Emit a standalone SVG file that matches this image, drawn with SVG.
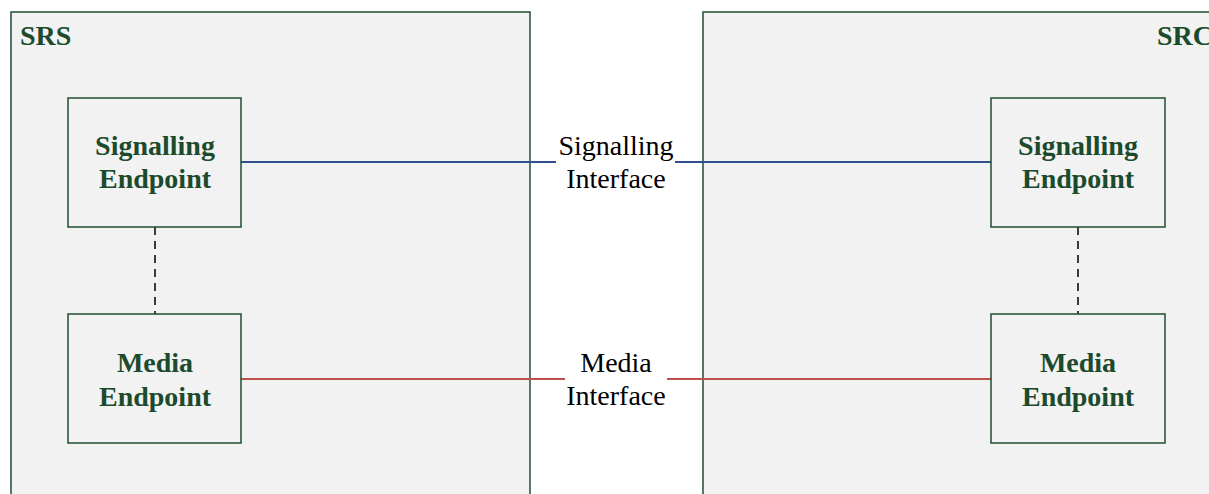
<svg xmlns="http://www.w3.org/2000/svg" width="1209" height="494" viewBox="0 0 1209 494">
<style>
.outer{fill:#f2f2f2;stroke:#1f4e2f;stroke-width:1.5}
.box{fill:#f2f2f2;stroke:#1f4e2f;stroke-width:1.5}
.t{font-family:"Liberation Serif","Times New Roman",serif;font-size:28px;font-weight:bold;fill:#1b4b2c;text-anchor:middle}
.title{font-family:"Liberation Serif","Times New Roman",serif;font-size:28px;font-weight:bold;fill:#1b4b2c}
.lbl{font-family:"Liberation Serif","Times New Roman",serif;font-size:28px;fill:#000;text-anchor:middle}
.sig{stroke:#2f4f8f;stroke-width:2;fill:none}
.med{stroke:#c0504d;stroke-width:2;fill:none}
.dash{stroke:#000;stroke-width:1.5;stroke-dasharray:8,6;fill:none}
</style>
<rect width="1209" height="494" fill="#ffffff"/>
<g id="srs">
<rect class="outer" x="11" y="12" width="519" height="500"/>
<text class="title" x="20" y="45">SRS</text>
</g>
<g id="src">
<rect class="outer" x="703" y="12" width="520" height="500"/>
<text class="title" x="1157" y="45">SRC</text>
</g>
<g id="connectors">
<line class="sig" x1="241" y1="162" x2="556" y2="162"/>
<line class="sig" x1="675" y1="162" x2="991" y2="162"/>
<line class="med" x1="241" y1="379" x2="565" y2="379"/>
<line class="med" x1="667" y1="379" x2="991" y2="379"/>
<line class="dash" x1="155" y1="227" x2="155" y2="314"/>
<line class="dash" x1="1078" y1="227" x2="1078" y2="314"/>
</g>
<g id="srs-signalling">
<rect class="box" x="68" y="98" width="173" height="129"/>
<text class="t" x="155" y="155">Signalling</text>
<text class="t" x="155" y="188">Endpoint</text>
</g>
<g id="srs-media">
<rect class="box" x="68" y="314" width="173" height="129"/>
<text class="t" x="155" y="372">Media</text>
<text class="t" x="155" y="406">Endpoint</text>
</g>
<g id="src-signalling">
<rect class="box" x="991" y="98" width="174" height="129"/>
<text class="t" x="1078" y="155">Signalling</text>
<text class="t" x="1078" y="188">Endpoint</text>
</g>
<g id="src-media">
<rect class="box" x="991" y="314" width="174" height="129"/>
<text class="t" x="1078" y="372">Media</text>
<text class="t" x="1078" y="406">Endpoint</text>
</g>
<g id="interface-labels">
<text class="lbl" x="616" y="155">Signalling</text>
<text class="lbl" x="616" y="188">Interface</text>
<text class="lbl" x="616" y="372">Media</text>
<text class="lbl" x="616" y="405">Interface</text>
</g>
</svg>
